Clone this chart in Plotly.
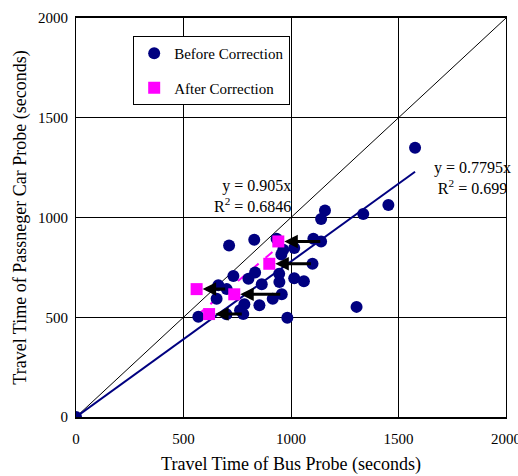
import plotly.graph_objects as go

# Before correction (bus probe vs passenger car probe travel time)
before_x = [0, 1577, 1453, 1336, 1158, 1140, 1104, 1140, 1100, 1015, 964, 955, 933, 829, 712,
            1305, 983, 945, 1015, 1060, 946, 864, 833, 802, 732, 662, 701, 654, 957, 915,
            853, 783, 763, 778, 700, 569]
before_y = [0, 1350, 1063, 1018, 1035, 993, 893, 880, 768, 847, 838, 815, 893, 888, 860,
            552, 497, 718, 695, 680, 677, 665, 724, 693, 707, 660, 641, 593, 615, 593,
            560, 565, 535, 516, 515, 502]

# After correction
after_x = [941, 899, 561, 736, 619]
after_y = [880, 768, 641, 615, 516]
# Corresponding uncorrected bus travel times (arrow tails)
corr_from_x = [1143, 1100, 701, 957, 778]

slope_before = 0.7795
slope_after = 0.905

axis_ticks = [0, 500, 1000, 1500, 2000]

FONT = "Liberation Serif"
NAVY = "#000080"
MAGENTA = "#FF00FF"

fig = go.Figure()

# y = x reference line
fig.add_trace(go.Scatter(x=[0, 2000], y=[0, 2000], mode="lines",
                         line=dict(color="black", width=1), showlegend=False, hoverinfo="skip"))

# fit line for before correction
bx_max = max(before_x)
fig.add_trace(go.Scatter(x=[0, bx_max], y=[0, slope_before * bx_max], mode="lines",
                         line=dict(color=NAVY, width=2), showlegend=False, hoverinfo="skip"))

# fit line for after correction
ax_min, ax_max = min(after_x), max(after_x)
fig.add_trace(go.Scatter(x=[ax_min, ax_max], y=[slope_after * ax_min, slope_after * ax_max],
                         mode="lines", line=dict(color=MAGENTA, width=2, dash="dash"),
                         showlegend=False, hoverinfo="skip"))

fig.add_trace(go.Scatter(x=before_x, y=before_y, mode="markers", name="Before Correction",
                         marker=dict(color=NAVY, size=12, line=dict(width=0)),
                         legendgroup="a"))
fig.add_trace(go.Scatter(x=after_x, y=after_y, mode="markers", name="After Correction",
                         marker=dict(color=MAGENTA, size=12, symbol="square", line=dict(width=0)),
                         legendgroup="b"))

annotations = []
for tx, hx, yy in zip(corr_from_x, after_x, after_y):
    annotations.append(dict(x=hx, y=yy, ax=tx, ay=yy, xref="x", yref="y", axref="x", ayref="y",
                            text="", showarrow=True, arrowhead=2, arrowsize=0.9, arrowwidth=3,
                            arrowcolor="black", standoff=6))

annotations += [
    dict(x=0.505, y=0.553, xref="paper", yref="paper", text="y = 0.905x<br>R<sup>2</sup> = 0.6846",
         showarrow=False, font=dict(family=FONT, size=16, color="black"), align="right",
         xanchor="right", yanchor="middle"),
    dict(x=0.921, y=0.60, xref="paper", yref="paper", text="y = 0.7795x<br>R<sup>2</sup> = 0.699",
         showarrow=False, font=dict(family=FONT, size=16, color="black"), align="center",
         xanchor="center", yanchor="middle"),
]

fig.update_layout(
    width=518, height=476,
    margin=dict(l=76, r=12, t=18, b=59),
    paper_bgcolor="white", plot_bgcolor="white",
    font=dict(family=FONT, size=15, color="black"),
    annotations=annotations,
    legend=dict(x=0.133, y=0.955, xanchor="left", yanchor="top",
                bordercolor="black", borderwidth=1, bgcolor="white",
                font=dict(family=FONT, size=15), tracegroupgap=12,
                itemsizing="trace"),
    showlegend=True,
)
fig.update_xaxes(range=[0, 2000], tickvals=axis_ticks, ticktext=[str(v) for v in axis_ticks],
                 showgrid=True, gridcolor="black", gridwidth=1, zeroline=False,
                 showline=True, linecolor="black", linewidth=2, mirror=True,
                 ticks="inside", ticklen=5, tickcolor="black", ticklabelstandoff=7,
                 ticklabeloverflow="allow", automargin=False,
                 tickfont=dict(family=FONT, size=15),
                 title=dict(text="Travel Time of Bus Probe (seconds)", standoff=11,
                            font=dict(family=FONT, size=18)))
fig.update_yaxes(range=[0, 2000], tickvals=axis_ticks, ticktext=[str(v) for v in axis_ticks],
                 showgrid=True, gridcolor="black", gridwidth=1, zeroline=False,
                 showline=True, linecolor="black", linewidth=1, mirror=True,
                 ticks="", ticklabelstandoff=4, automargin=False,
                 tickfont=dict(family=FONT, size=15),
                 title=dict(text="Travel Time of Passneger Car Probe (seconds)", standoff=6,
                            font=dict(family=FONT, size=18)))

fig.write_html("out.html")
